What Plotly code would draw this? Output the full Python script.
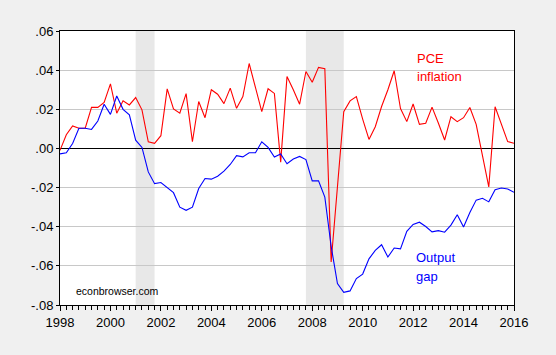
import plotly.graph_objects as go

# Quarterly observations 1998Q1 .. 2016Q1
start_year = 1998
pce_inflation = [
    -0.001, 0.007, 0.0115, 0.0103,
    0.0103, 0.021, 0.021, 0.0235,
    0.033, 0.018, 0.0243, 0.0222,
    0.026, 0.0197, 0.0034, 0.0026,
    0.0065, 0.0304, 0.0202, 0.018,
    0.028, 0.0034, 0.024, 0.0157,
    0.030, 0.0277, 0.0229, 0.0308,
    0.0205, 0.0265, 0.0434, 0.0311,
    0.0188, 0.0305, 0.0281, -0.007,
    0.0367, 0.030, 0.0226, 0.0393,
    0.0338, 0.0414, 0.0407, -0.058,
    -0.019, 0.0188, 0.0243, 0.0265,
    0.015, 0.0046, 0.0111, 0.0214,
    0.030, 0.0397, 0.0204, 0.0137,
    0.0227, 0.0123, 0.0129, 0.0211,
    0.013, 0.0043, 0.0162, 0.0137,
    0.0157, 0.0209, 0.0123, -0.003,
    -0.0197, 0.0213, 0.0123, 0.0035,
    0.0026,
]
output_gap = [
    -0.0028, -0.0022, 0.0025, 0.0103,
    0.0103, 0.0097, 0.014, 0.0226,
    0.0174, 0.0268, 0.020, 0.0172,
    0.0042, 0.0005, -0.012, -0.018,
    -0.0174, -0.0202, -0.0226, -0.030,
    -0.0316, -0.030, -0.0205, -0.0154,
    -0.0157, -0.0142, -0.0116, -0.0082,
    -0.0037, -0.0043, -0.0022, -0.0022,
    0.0034, 0.0005, -0.0044, -0.0028,
    -0.0078, -0.0054, -0.0041, -0.0057,
    -0.0166, -0.0166, -0.0249, -0.050,
    -0.069, -0.0735, -0.0728, -0.0665,
    -0.0642, -0.0564, -0.0521, -0.0492,
    -0.0555, -0.0509, -0.0513, -0.0424,
    -0.0388, -0.0377, -0.0399, -0.0426,
    -0.042, -0.0428, -0.0392, -0.0339,
    -0.0401, -0.0327, -0.0264, -0.0255,
    -0.0273, -0.0211, -0.0202, -0.0207,
    -0.0224,
]
dates = [start_year + i / 4 for i in range(len(pce_inflation))]

recession_starts = [2001.0, 2007.75]
recession_ends = [2001.75, 2009.25]

x_tick_vals = [1998, 2000, 2002, 2004, 2006, 2008, 2010, 2012, 2014, 2016]
x_tick_text = [str(v) for v in x_tick_vals]
y_tick_vals = [0.06, 0.04, 0.02, 0.00, -0.02, -0.04, -0.06, -0.08]
y_tick_text = [".06", ".04", ".02", ".00", "-.02", "-.04", "-.06", "-.08"]

FONT = "Liberation Sans, Arial, sans-serif"

fig = go.Figure()
fig.add_trace(go.Scatter(x=dates, y=pce_inflation, mode="lines",
                         line=dict(color="#ff0000", width=1.1), name="PCE inflation"))
fig.add_trace(go.Scatter(x=dates, y=output_gap, mode="lines",
                         line=dict(color="#0000ff", width=1.1), name="Output gap"))

for s, e in zip(recession_starts, recession_ends):
    fig.add_shape(type="rect", xref="x", yref="paper", x0=s, x1=e, y0=0, y1=1,
                  fillcolor="#e8e8e8", line=dict(width=0), layer="below")

fig.add_annotation(x=2012.06, y=0.046, text="PCE", showarrow=False, xanchor="left",
                   yanchor="middle", font=dict(color="#ff0000", size=13, family=FONT))
fig.add_annotation(x=2012.06, y=0.0365, text="inflation", showarrow=False, xanchor="left",
                   yanchor="middle", font=dict(color="#ff0000", size=13, family=FONT))
fig.add_annotation(x=2012.04, y=-0.0555, text="Output", showarrow=False, xanchor="left",
                   yanchor="middle", font=dict(color="#0000ff", size=13, family=FONT))
fig.add_annotation(x=2012.04, y=-0.0655, text="gap", showarrow=False, xanchor="left",
                   yanchor="middle", font=dict(color="#0000ff", size=13, family=FONT))
fig.add_annotation(x=1998.55, y=-0.0728, text="econbrowser.com", showarrow=False, xanchor="left",
                   yanchor="middle", font=dict(color="#000000", size=10.5, family=FONT))

fig.update_layout(
    width=556, height=355,
    margin=dict(l=60, r=42, t=31, b=50),
    paper_bgcolor="#f0f0f0", plot_bgcolor="#ffffff",
    showlegend=False,
    font=dict(family=FONT, size=13, color="#000000"),
)
fig.update_xaxes(
    range=[1998, 2016], tickvals=x_tick_vals, ticktext=x_tick_text,
    showgrid=False, zeroline=False,
    showline=True, linecolor="#000000", linewidth=1, mirror=True,
    ticks="outside", ticklen=5, tickcolor="#000000", tickwidth=1,
    minor=dict(dtick=0.25, tick0=1998, ticks="outside", ticklen=4, tickcolor="#000000", showgrid=False),
    tickfont=dict(size=13, color="#000000", family=FONT),
)
fig.update_yaxes(
    range=[-0.08, 0.06], tickvals=y_tick_vals, ticktext=y_tick_text,
    showgrid=True, gridcolor="#c8c8c8", gridwidth=1,
    zeroline=True, zerolinecolor="#000000", zerolinewidth=1,
    showline=True, linecolor="#000000", linewidth=1, mirror=True,
    ticks="outside", ticklen=3, tickcolor="#000000",
    tickfont=dict(size=13, color="#000000", family=FONT),
)

page_css = ("document.body.style.margin='0';"
            "document.body.style.padding='0';"
            "document.body.style.background='#f0f0f0';"
            "document.body.style.overflow='hidden';")
fig.write_html("out.html", post_script=page_css,
               config={"displayModeBar": False, "staticPlot": True})
